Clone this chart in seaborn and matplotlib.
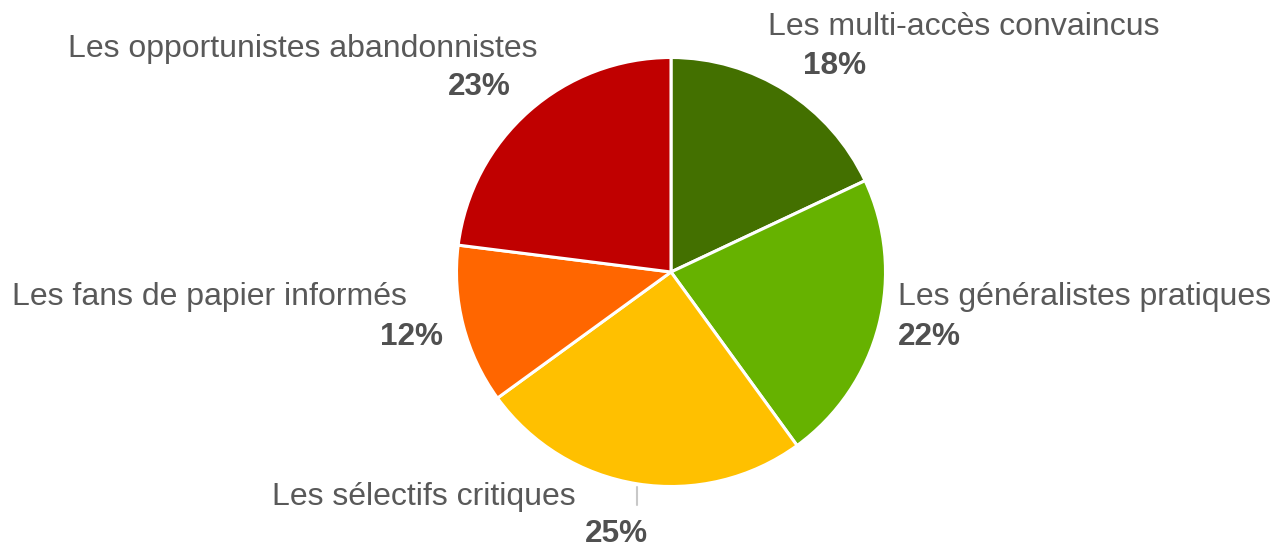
import matplotlib
matplotlib.use("Agg")
import matplotlib.pyplot as plt
import seaborn as sns

# Segment shares (%), clockwise from 12 o'clock
segments = ["Les multi-accès convaincus", "Les généralistes pratiques",
            "Les sélectifs critiques", "Les fans de papier informés",
            "Les opportunistes abandonnistes"]
shares = [18, 22, 25, 12, 23]
colors = ["#437000", "#66b200", "#ffc000", "#ff6600", "#c00000"]

sns.set_theme(style="white")
plt.rcParams["font.family"] = ["Liberation Sans", "DejaVu Sans"]

W, H = 1277, 547
fig = plt.figure(figsize=(W / 100, H / 100), dpi=100)
cx, cy, r = 671, 272, 214.5
ax = fig.add_axes([(cx - r) / W, (H - cy - r) / H, 2 * r / W, 2 * r / H])
ax.pie(shares, colors=sns.color_palette(colors), startangle=90, counterclock=False,
       radius=1, wedgeprops=dict(edgecolor="white", linewidth=2.2))
ax.set_xlim(-1, 1)
ax.set_ylim(-1, 1)
ax.set_aspect("equal")
ax.axis("off")

# Label layout in pixels: (name_x, name_baseline, pct_x, pct_baseline)
label_pos = [
    (768, 35, 803, 74),
    (898, 305, 898, 345),
    (272, 505, 585, 542),
    (12, 305, 380, 345),
    (68, 57, 448, 95),
]

def px(x, y):
    return x / W, 1 - y / H

text_color = "#595959"
for name, val, (nx, ny, qx, qy) in zip(segments, shares, label_pos):
    fig.text(*px(nx, ny), name, ha="left", va="baseline",
             fontsize=23, color=text_color)
    fig.text(*px(qx, qy), f"{val}%", ha="left", va="baseline",
             fontsize=22.7, fontweight="bold", color="#505050")

# Leader line for the bottom label
fig.add_artist(plt.Line2D([637 / W, 637 / W], [1 - 487 / H, 1 - 505 / H],
                          color="#c8c8c8", linewidth=1.5))

fig.savefig("out.png", dpi=100, facecolor="white")
